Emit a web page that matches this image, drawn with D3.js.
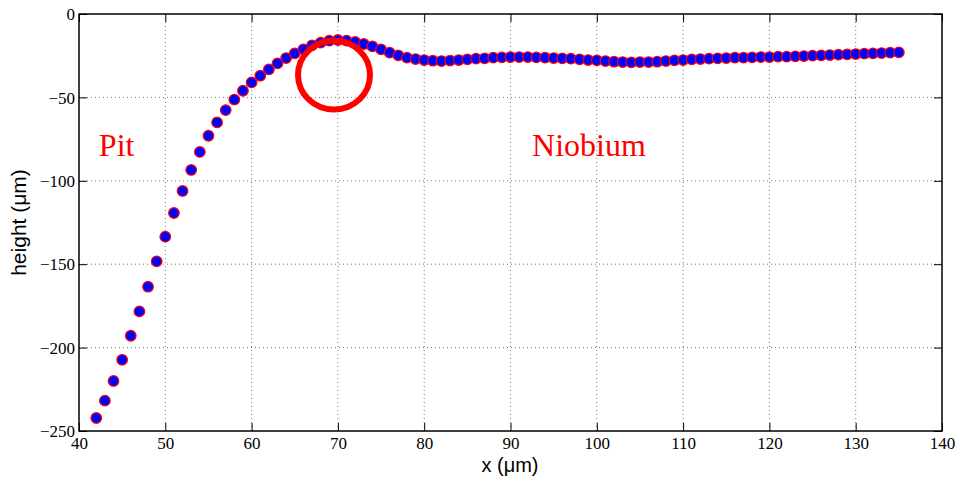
<!DOCTYPE html>
<html>
<head>
<meta charset="utf-8">
<script src="https://cdn.jsdelivr.net/npm/d3@7"></script>
<style>
  body { margin: 0; background: #fff; }
  svg { display: block; }
  .tick text { font-family: "Liberation Serif", "Times New Roman", serif; }
</style>
</head>
<body>
<svg id="chart" width="960" height="481"></svg>
<script>
const xValues = [42,43,44,45,46,47,48,49,50,51,52,53,54,55,56,57,58,59,60,61,62,63,64,65,66,67,68,69,70,71,72,73,74,75,76,77,78,79,80,81,82,83,84,85,86,87,88,89,90,91,92,93,94,95,96,97,98,99,100,101,102,103,104,105,106,107,108,109,110,111,112,113,114,115,116,117,118,119,120,121,122,123,124,125,126,127,128,129,130,131,132,133,134,135];
const heights = [-242.2,-231.8,-220,-207.3,-192.9,-178.3,-163.5,-148.3,-133.5,-119.3,-106.1,-93.5,-82.7,-73,-65,-57.6,-51.3,-46,-41,-37,-33.2,-29.6,-26.4,-23.6,-21.2,-18.8,-17.2,-16,-15.6,-16,-16.8,-18,-19.4,-21.2,-23.2,-24.8,-26.2,-27,-27.6,-28,-28.2,-27.9,-27.6,-27.2,-26.8,-26.6,-26.2,-26,-25.8,-25.8,-25.8,-26,-26.2,-26.4,-26.6,-26.8,-27.2,-27.6,-27.8,-28.2,-28.6,-28.8,-29,-28.8,-28.8,-28.6,-28.2,-27.8,-27.6,-27.2,-27,-26.8,-26.6,-26.4,-26.2,-26.2,-26,-25.8,-25.8,-25.6,-25.6,-25.4,-25.2,-25,-24.8,-24.6,-24.4,-24.2,-24,-23.8,-23.6,-23.4,-23.2,-23];
const xTicks = [40,50,60,70,80,90,100,110,120,130,140];
const yTicks = [0,-50,-100,-150,-200,-250];
const annotations = [
  {text: "Pit", x: 42.3, y: -80},
  {text: "Niobium", x: 92.5, y: -80}
];
const highlight = {x: 69.55, y: -36.6};

const L = 79, R = 942, T = 14, B = 431;
const svg = d3.select("#chart");
const x = d3.scaleLinear().domain([40, 140]).range([L, R]);
const y = d3.scaleLinear().domain([-250, 0]).range([B, T]);

// grid
const grid = svg.append("g");
grid.selectAll("line.vx").data(xTicks.slice(1, -1)).join("line")
  .attr("x1", d => x(d)).attr("x2", d => x(d)).attr("y1", T).attr("y2", B)
  .attr("stroke", "#777").attr("stroke-width", 1).attr("stroke-dasharray", "1,3");
grid.selectAll("line.hy").data(yTicks.slice(1, -1)).join("line")
  .attr("y1", d => y(d)).attr("y2", d => y(d)).attr("x1", L).attr("x2", R)
  .attr("stroke", "#777").attr("stroke-width", 1).attr("stroke-dasharray", "1,3");

// axes (ticks inward, on all sides)
const tickFont = "'Liberation Serif', 'Times New Roman', serif";
const ax = svg.append("g").attr("transform", `translate(0,${B})`)
  .call(d3.axisBottom(x).tickValues(xTicks).tickSizeInner(-8).tickSizeOuter(0).tickPadding(5).tickFormat(d3.format("d")));
const axTop = svg.append("g").attr("transform", `translate(0,${T})`)
  .call(d3.axisTop(x).tickValues(xTicks).tickSizeInner(-8).tickSizeOuter(0).tickFormat(""));
const ay = svg.append("g").attr("transform", `translate(${L},0)`)
  .call(d3.axisLeft(y).tickValues(yTicks).tickSizeInner(-8).tickSizeOuter(0).tickPadding(4));
const ayR = svg.append("g").attr("transform", `translate(${R},0)`)
  .call(d3.axisRight(y).tickValues(yTicks).tickSizeInner(-8).tickSizeOuter(0).tickFormat(""));
[ax, axTop, ay, ayR].forEach(g => {
  g.attr("font-family", null).attr("font-size", null);
  g.select(".domain").remove();
  g.selectAll("line").attr("stroke", "#000").attr("stroke-width", 1);
  g.selectAll("text").style("font-family", tickFont).style("font-size", "17px").attr("fill", "#000");
});
ax.selectAll("text").attr("dy", "0.76em");
ay.selectAll("text").attr("dy", "0.34em");

svg.append("rect").attr("x", L).attr("y", T).attr("width", R - L).attr("height", B - T)
  .attr("fill", "none").attr("stroke", "#000").attr("stroke-width", 1.5);

// points
svg.append("g").selectAll("circle").data(xValues.map((d, i) => [d, heights[i]])).join("circle")
  .attr("cx", d => x(d[0])).attr("cy", d => y(d[1])).attr("r", 5.3)
  .attr("fill", "#0000ff").attr("stroke", "#ff0000").attr("stroke-width", 1.2);

// highlight ring
svg.append("ellipse").attr("cx", x(highlight.x)).attr("cy", y(highlight.y))
  .attr("rx", 36).attr("ry", 34.5)
  .attr("fill", "none").attr("stroke", "#ff0000").attr("stroke-width", 6);

// annotations
svg.append("g").selectAll("text").data(annotations).join("text")
  .attr("x", d => x(d.x)).attr("y", d => y(d.y) + 9)
  .style("font-family", tickFont).style("font-size", "32px").attr("fill", "#ff0000")
  .text(d => d.text);

// axis labels
const labFont = "'Liberation Sans', Arial, Helvetica, sans-serif";
svg.append("text").attr("x", 510).attr("y", 472).attr("text-anchor", "middle")
  .style("font-family", labFont).style("font-size", "20px").text("x (μm)");
svg.append("text").attr("transform", `translate(26,${(T + B) / 2}) rotate(-90)`)
  .attr("text-anchor", "middle")
  .style("font-family", labFont).style("font-size", "21px").text("height (μm)");
</script>
</body>
</html>
